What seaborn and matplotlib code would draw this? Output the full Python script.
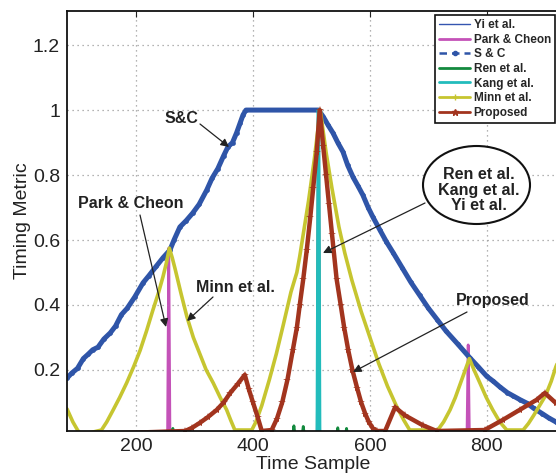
import matplotlib
matplotlib.use("Agg")
import matplotlib.pyplot as plt
import seaborn as sns
import pandas as pd
from matplotlib.lines import Line2D
from matplotlib.patches import Ellipse

# ---------------- data ----------------
yi_x = [82, 510, 512, 514, 925]
yi_y = [0, 0, 1.0, 0, 0]

park_x = [82, 254, 256, 258, 510, 512, 514, 766, 768, 770, 925]
park_y = [0, 0, 0.575, 0, 0, 1.0, 0, 0, 0.277, 0, 0]

sc_x = [82, 90, 100, 110, 118, 126, 135, 145, 156, 165, 175, 185, 198, 212, 222, 235,
        246, 258, 265, 275, 286, 297, 308, 321, 330, 340, 350, 357, 365, 372, 378, 383,
        388, 512, 520, 528, 537, 545, 554, 562, 571, 580, 588, 597, 605, 617, 628, 640,
        655, 670, 685, 700, 715, 730, 750, 771, 785, 800, 811, 822, 835, 845, 857, 868,
        880, 895, 906, 918, 925]
sc_y = [0.175, 0.19, 0.205, 0.235, 0.248, 0.262, 0.27, 0.295, 0.314, 0.335, 0.37, 0.39,
        0.425, 0.468, 0.49, 0.52, 0.545, 0.569, 0.6, 0.64, 0.66, 0.683, 0.71, 0.754,
        0.79, 0.82, 0.86, 0.886, 0.9, 0.93, 0.96, 0.985, 1.0, 1.0, 0.98, 0.955, 0.929,
        0.9, 0.871, 0.83, 0.794, 0.765, 0.738, 0.7, 0.671, 0.631, 0.595, 0.56, 0.515,
        0.47, 0.43, 0.39, 0.355, 0.32, 0.28, 0.237, 0.21, 0.18, 0.165, 0.148, 0.13,
        0.12, 0.108, 0.098, 0.082, 0.065, 0.052, 0.04, 0.035]

ren_x = [82, 261, 263, 265, 468, 470, 472, 484, 486, 488, 510, 512, 514, 543, 545, 547,
         558, 560, 562, 925]
ren_y = [0, 0, 0.02, 0, 0, 0.028, 0, 0, 0.026, 0, 0, 1.0, 0, 0, 0.022, 0, 0, 0.02, 0, 0]

kang_x = [82, 510, 512, 514, 925]
kang_y = [0, 0, 1.0, 0, 0]

minn_x = [82, 92, 100, 106,
          141, 150, 161, 172, 184, 196, 207, 218, 229, 238, 246, 252, 257,
          262, 267, 277, 287, 298, 309, 320, 332, 344, 355, 362, 369,
          398, 405, 415, 428, 440, 452, 465, 475, 480, 495, 505, 515,
          525, 535, 547, 557, 569, 585, 600, 615, 630, 645, 658, 668,
          716, 726, 737, 746, 755, 763, 770, 778, 788, 799, 810, 822, 834,
          862, 871, 880, 890, 900, 910, 918, 925]
minn_y = [0.08, 0.04, 0.015, 0,
          0.015, 0.04, 0.077, 0.115, 0.16, 0.21, 0.26, 0.32, 0.385, 0.435, 0.486, 0.53, 0.575,
          0.545, 0.51, 0.435, 0.364, 0.3, 0.25, 0.2, 0.16, 0.115, 0.077, 0.045, 0.015,
          0.015, 0.04, 0.09, 0.17, 0.25, 0.34, 0.44, 0.5, 0.55, 0.72, 0.85, 1.0,
          0.87, 0.76, 0.64, 0.56, 0.477, 0.38, 0.3, 0.22, 0.15, 0.09, 0.045, 0.015,
          0.015, 0.04, 0.077, 0.115, 0.16, 0.2, 0.235, 0.2, 0.16, 0.115, 0.077, 0.04, 0.015,
          0.015, 0.035, 0.06, 0.09, 0.12, 0.165, 0.21, 0.24]

prop_x = [82, 284, 296, 309, 323, 338, 350, 361, 374, 386, 393, 400, 408, 415,
          432, 441, 450, 459, 468, 475, 480, 486, 492, 498, 503, 509, 514,
          520, 525, 530, 535, 543, 550, 556, 563, 570, 578, 585, 592, 598, 605, 612,
          626, 643, 660, 690, 714, 796, 827, 856, 885, 899, 918, 925]
prop_y = [0, 0.012, 0.022, 0.037, 0.055, 0.077, 0.1, 0.129, 0.157, 0.185, 0.14, 0.1, 0.055, 0.012,
          0.015, 0.05, 0.1, 0.17, 0.26, 0.33, 0.4, 0.48, 0.57, 0.67, 0.76, 0.87, 1.0,
          0.89, 0.8, 0.71, 0.62, 0.48, 0.4, 0.33, 0.26, 0.2, 0.145, 0.1, 0.065, 0.04, 0.02, 0.012,
          0.012, 0.085, 0.06, 0.03, 0.012, 0.015, 0.046, 0.077, 0.108, 0.129, 0.098, 0.09]

labels = ["Yi et al.", "Park & Cheon", "S & C", "Ren et al.", "Kang et al.",
          "Minn et al.", "Proposed"]
xticks = [200, 400, 600, 800]
yticks = [0.2, 0.4, 0.6, 0.8, 1.0, 1.2]
ytick_labels = ["0.2", "0.4", "0.6", "0.8", "1", "1.2"]

# ---------------- style ----------------
sns.set_style("white")
plt.rcParams["font.family"] = ["Liberation Sans", "DejaVu Sans"]

W, H = 556, 474
fig = plt.figure(figsize=(W / 100, H / 100), dpi=100)
ax = fig.add_axes([67 / W, 1 - 431 / H, (560 - 67) / W, (431 - 11) / H])

c_yi = "#3455b0"
c_park = "#c452b8"
c_sc = "#2f55a8"
c_ren = "#138a3e"
c_kang = "#22bcbc"
c_minn = "#c6c530"
c_prop = "#a2341e"

def draw(xs, ys, **kw):
    df = pd.DataFrame({"x": xs, "y": ys})
    sns.lineplot(data=df, x="x", y="y", ax=ax, sort=False, estimator=None, **kw)

draw(yi_x, yi_y, color=c_yi, lw=1.0)
draw(park_x, park_y, color=c_park, lw=2.0)
draw(sc_x, sc_y, color=c_sc, lw=3.6, marker="o", markersize=3.4, markeredgewidth=0)
draw(ren_x, ren_y, color=c_ren, lw=2.0)
draw(kang_x, kang_y, color=c_kang, lw=2.5)
draw(minn_x, minn_y, color=c_minn, lw=2.6)
draw(prop_x, prop_y, color=c_prop, lw=3.2, marker="*", markersize=6, markeredgewidth=0)

ax.set_xlim(82, 925)
ax.set_ylim(0.012, 1.305)
ax.set_xticks(xticks)
ax.set_yticks(yticks)
ax.set_yticklabels(ytick_labels)
ax.tick_params(direction="in", length=4, width=0.8, labelsize=14, top=True,
               right=False, colors="#222222", pad=5)
ax.grid(True, linestyle=(0, (1, 3)), color="#9a9a9a", lw=0.9)
for s in ax.spines.values():
    s.set_color("#111111")
    s.set_linewidth(1.3)
ax.set_xlabel("Time Sample", fontsize=14, color="#222222", labelpad=1)
ax.set_ylabel("Timing Metric", fontsize=14, color="#222222")
ax.yaxis.set_label_coords((31 - 67) / 493, 0.5)

# ---------------- legend ----------------
handles = [
    Line2D([], [], color=c_yi, lw=1.0),
    Line2D([], [], color=c_park, lw=2.0),
    Line2D([], [], color=c_sc, lw=1.8, ls=(0, (3, 2)), marker=".", markersize=6),
    Line2D([], [], color=c_ren, lw=2.0),
    Line2D([], [], color=c_kang, lw=2.0),
    Line2D([], [], color=c_minn, lw=2.0, marker="+", markersize=4),
    Line2D([], [], color=c_prop, lw=2.0, marker="*", markersize=5),
]
leg = ax.legend(handles, labels, loc="upper right", bbox_to_anchor=(555 / W, 1 - 15 / H),
                bbox_transform=fig.transFigure, borderaxespad=0,
                prop={"weight": "bold", "size": 8.5}, handlelength=2.6,
                handletextpad=0.3, labelspacing=0.22, borderpad=0.35,
                frameon=True, fancybox=False, framealpha=1)
leg.get_frame().set_edgecolor("#111111")
leg.get_frame().set_linewidth(1.2)

# ---------------- annotations ----------------
def fp(x, y):
    return (x / W, 1 - y / H)

tkw = dict(xycoords="figure fraction", textcoords="figure fraction",
           fontsize=11.5, fontweight="bold", color="#222222", ha="center", va="center")
akw = dict(arrowstyle="-|>", color="#222222", lw=0.9, mutation_scale=12, shrinkA=0, shrinkB=0)

ax.annotate("S&C", xy=fp(181, 118), **tkw)
ax.annotate("", xy=fp(229, 147), xytext=fp(200, 124), xycoords="figure fraction",
            textcoords="figure fraction", arrowprops=akw)
ax.annotate("Park & Cheon", xy=fp(131, 203), **tkw)
ax.annotate("", xy=fp(166, 327), xytext=fp(140, 215), xycoords="figure fraction",
            textcoords="figure fraction", arrowprops=akw)
ax.annotate("Minn et al.", xy=fp(235, 287), **tkw)
ax.annotate("", xy=fp(187, 321), xytext=fp(213, 297), xycoords="figure fraction",
            textcoords="figure fraction", arrowprops=akw)
ax.annotate("Proposed", xy=fp(493, 300), **tkw)
ax.annotate("", xy=fp(353, 372), xytext=fp(467, 312), xycoords="figure fraction",
            textcoords="figure fraction", arrowprops=akw)

ell = Ellipse(fp(476.5, 185), 107 / W, 78 / H, transform=fig.transFigure,
              facecolor="white", edgecolor="#111111", lw=1.5, zorder=5)
fig.patches.append(ell)
fig.text(*fp(479, 190), "Ren et al.\nKang et al.\nYi et al.", fontsize=11.5,
         fontweight="bold", color="#222222", ha="center", va="center",
         linespacing=1.05, zorder=6)
ax.annotate("", xy=fp(323, 253), xytext=fp(425, 203), xycoords="figure fraction",
            textcoords="figure fraction", arrowprops=akw)

fig.savefig("out.png", dpi=100)
